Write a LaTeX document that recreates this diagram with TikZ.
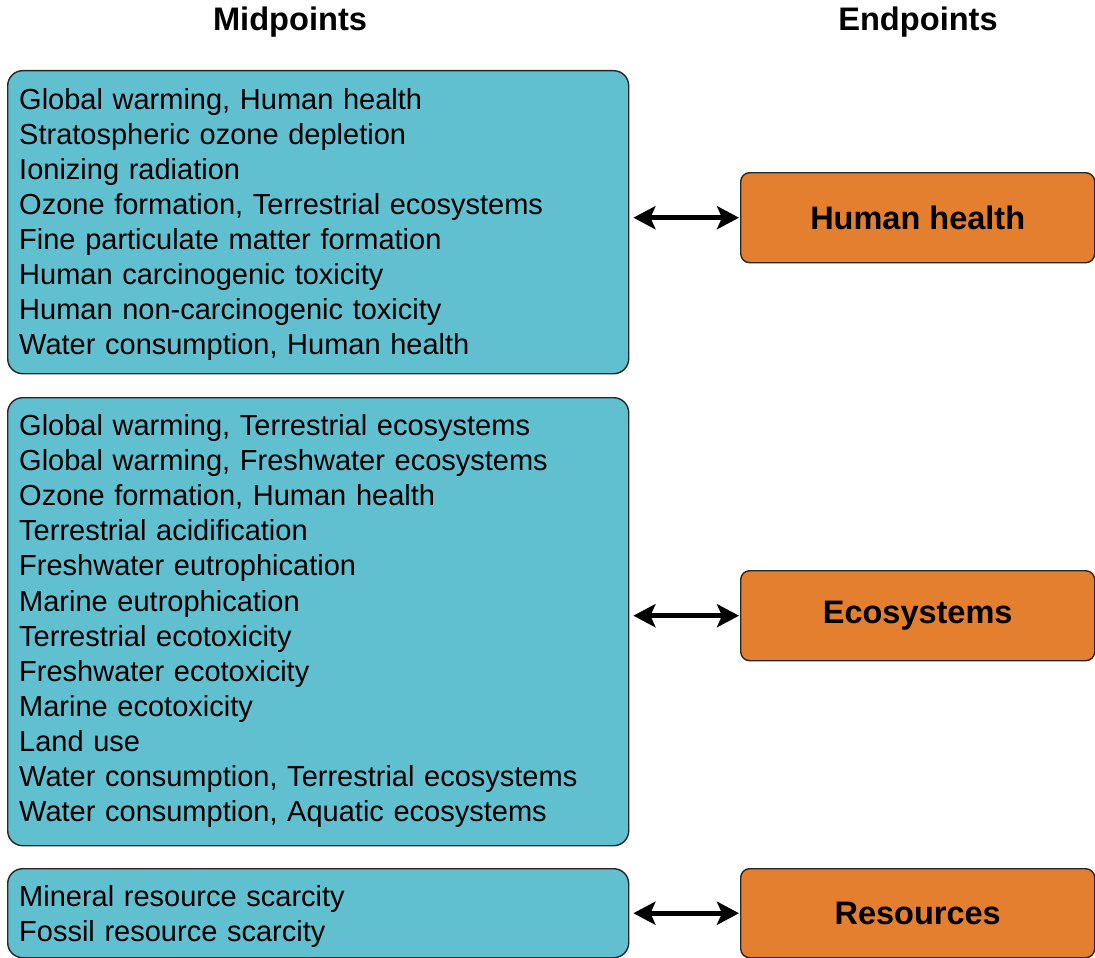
\documentclass[tikz,border=0pt]{standalone}
\usepackage{fontspec}
\setmainfont{Liberation Sans}
\usetikzlibrary{arrows.meta,shadows}
\definecolor{teal1}{RGB}{97,192,207}
\definecolor{orange1}{RGB}{228,127,47}
\tikzset{
  midbox/.style={draw=black!85, line width=1.4pt, fill=teal1, rounded corners=15pt, anchor=north west, minimum width=621pt, inner sep=0pt},
  endbox/.style={draw=black!85, line width=1.4pt, fill=orange1, rounded corners=9pt, anchor=north west, minimum width=354pt, minimum height=90pt, inner sep=0pt, font=\fontsize{32.5}{39}\selectfont\bfseries},
  midtext/.style={anchor=base west, inner sep=0pt, text width=600pt, align=left, font=\fontsize{29}{35.1}\selectfont},
  header/.style={font=\fontsize{32.6}{39}\selectfont\bfseries, inner sep=0pt},
  link/.style={line width=5pt, {Stealth[length=22pt,width=23pt,inset=5pt]}-{Stealth[length=22pt,width=23pt,inset=5pt]}}
}
\begin{document}
\begin{tikzpicture}[x=1pt,y=1pt]
\useasboundingbox (0,0) rectangle (1095,-958);
\node[header] (hmid) at (290,-22) {Midpoints};
\node[header] (hend) at (918,-22) {Endpoints};

\node[midbox, minimum height=303pt] (m1) at (7,-70) {};
\node[midtext] (t1) at (19,-109) {Global warming, Human health\\
Stratospheric ozone depletion\\
Ionizing radiation\\
Ozone formation, Terrestrial ecosystems\\
Fine particulate matter formation\\
Human carcinogenic toxicity\\
Human non-carcinogenic toxicity\\
Water consumption, Human health};

\node[midbox, minimum height=448pt] (m2) at (7,-397) {};
\node[midtext] (t2) at (19,-435.5) {Global warming, Terrestrial ecosystems\\
Global warming, Freshwater ecosystems\\
Ozone formation, Human health\\
Terrestrial acidification\\
Freshwater eutrophication\\
Marine eutrophication\\
Terrestrial ecotoxicity\\
Freshwater ecotoxicity\\
Marine ecotoxicity\\
Land use\\
Water consumption, Terrestrial ecosystems\\
Water consumption, Aquatic ecosystems};

\node[midbox, minimum height=89pt] (m3) at (7,-868) {};
\node[midtext] (t3) at (19,-906.5) {Mineral resource scarcity\\
Fossil resource scarcity};

\node[endbox] (e1) at (740,-172) {Human health};
\node[endbox] (e2) at (740,-570) {Ecosystems};
\node[endbox, minimum height=89pt] (e3) at (740,-868) {Resources};

\draw[link, shorten <=4pt, shorten >=1pt] (e1.west -| m1.east) -- (e1.west);
\draw[link, shorten <=4pt, shorten >=1pt] (e2.west -| m2.east) -- (e2.west);
\draw[link, shorten <=4pt, shorten >=1pt] (e3.west -| m3.east) -- (e3.west);
\end{tikzpicture}
\end{document}
